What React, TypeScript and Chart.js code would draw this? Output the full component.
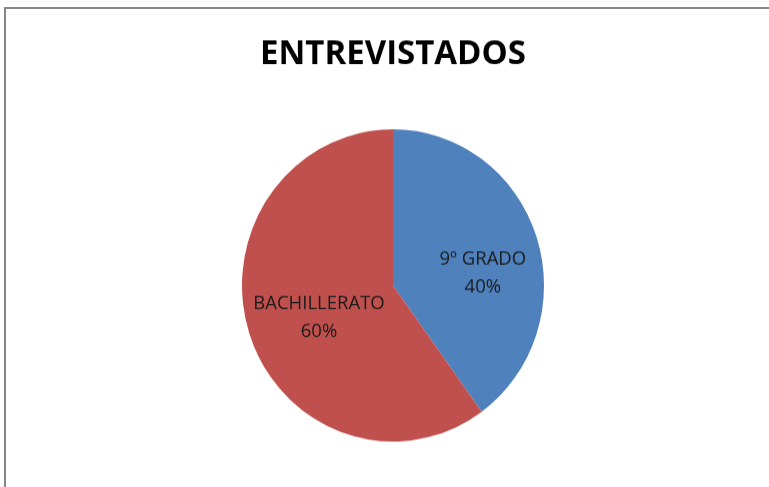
import React, { useEffect, useRef } from "react";
import { Chart, registerables } from "chart.js";

Chart.register(...registerables);

const categories = ["9º GRADO", "BACHILLERATO"];
const values = [40, 60];
const percentLabels = ["40%", "60%"];
const colors = ["#4F81BD", "#C0504D"];

const labelPlugin = {
  id: "sliceLabels",
  afterDatasetsDraw(chart: any) {
    const meta = chart.getDatasetMeta(0);
    const ctx = chart.ctx;
    // label anchor offsets, as fractions of radius
    const offs = [
      [0.595, -0.075],
      [-0.49, 0.21],
    ];
    ctx.save();
    ctx.font = "18.5px 'Open Sans'";
    ctx.fillStyle = "#1a1a1a";
    ctx.textAlign = "center";
    ctx.textBaseline = "middle";
    meta.data.forEach((arc: any, i: number) => {
      const r = arc.outerRadius;
      const cx = arc.x + offs[i][0] * r;
      const cy = arc.y + offs[i][1] * r;
      ctx.fillText(categories[i], cx, cy - 13.5);
      ctx.fillText(percentLabels[i], cx, cy + 13.5);
    });
    ctx.restore();
  },
};

export default function App() {
  const ref = useRef<HTMLCanvasElement>(null);
  useEffect(() => {
    const chart = new Chart(ref.current!, {
      type: "pie",
      data: {
        labels: categories,
        datasets: [
          {
            data: values,
            backgroundColor: colors,
            borderWidth: 0,
          },
        ],
      },
      options: {
        responsive: false,
        animation: false,
        layout: { padding: { left: 17, right: 0, top: 0, bottom: 44 } },
        plugins: {
          legend: { display: false },
          tooltip: { enabled: false },
          title: {
            display: true,
            text: "ENTREVISTADOS",
            color: "#000",
            font: { family: "'Open Sans'", size: 33, weight: "bold", lineHeight: 1.2 },
            padding: { top: 32.5, bottom: 52.9 },
          },
        },
      },
      plugins: [labelPlugin],
    });
    return () => chart.destroy();
  }, []);
  return (
    <div style={{ position: "fixed", left: 0, top: 0, width: 769, height: 487, background: "#fff", overflow: "hidden" }}>
      <div
        style={{
          position: "absolute",
          left: 4,
          top: 7,
          width: 900,
          height: 700,
          borderTop: "2px solid #878787",
          borderLeft: "2px solid #878787",
        }}
      />
      <canvas
        ref={ref}
        width={769}
        height={471}
        style={{ position: "absolute", left: 0, top: 0, width: 769, height: 487 }}
      />
    </div>
  );
}
